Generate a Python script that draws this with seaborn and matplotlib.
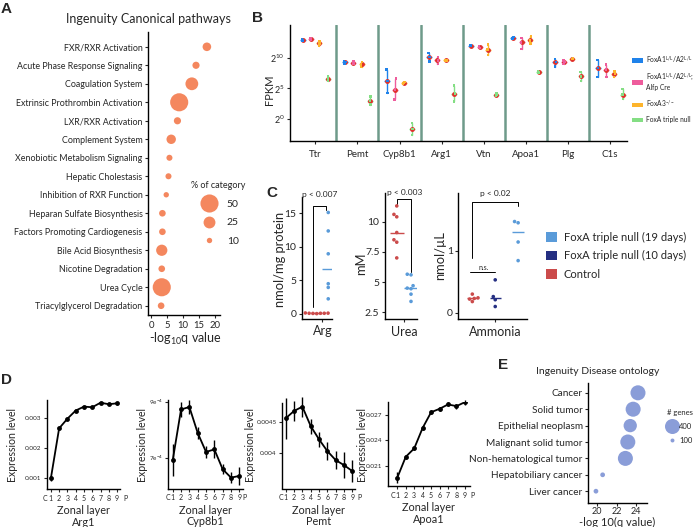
import numpy as np
import pandas as pd
import seaborn as sns
import matplotlib.pyplot as plt
from matplotlib.lines import Line2D
from matplotlib.patches import Patch

# ---------------- data ----------------
# A: Ingenuity canonical pathways
pathways = ["FXR/RXR Activation", "Acute Phase Response Signaling", "Coagulation System",
            "Extrinsic Prothrombin Activation", "LXR/RXR Activation", "Complement System",
            "Xenobiotic Metabolism Signaling", "Hepatic Cholestasis", "Inhibition of RXR Function",
            "Heparan Sulfate Biosynthesis", "Factors Promoting Cardiogenesis", "Bile Acid Biosynthesis",
            "Nicotine Degradation", "Urea Cycle", "Triacylglycerol Degradation"]
pathway_q = [17.4, 14.0, 12.7, 8.75, 8.2, 6.25, 5.7, 5.4, 4.7, 3.5, 3.5, 3.3, 3.3, 3.3, 3.1]
pathway_pct = [16, 13, 28, 50, 13, 18, 11, 11, 10, 12, 12, 23, 12, 56, 12]
pct_legend = [50, 25, 10]

# B: FPKM (log2) per gene, mean and range for each genotype
genes = ["Ttr", "Pemt", "Cyp8b1", "Arg1", "Vtn", "Apoa1", "Plg", "C1s"]
genotypes = ["FoxA1$^{L/L}$/A2$^{L/L}$", "FoxA1$^{L/L}$/A2$^{L/L}$;\nAlfp Cre",
             "FoxA3$^{-/-}$", "FoxA triple null"]
ctrl_mean = [12.9, 9.3, 6.2, 10.15, 12.0, 13.3, 9.3, 8.35]
ctrl_lo = [12.8, 9.1, 4.3, 9.45, 11.95, 13.2, 8.6, 6.9]
ctrl_hi = [13.0, 9.5, 8.1, 10.8, 12.05, 13.45, 9.85, 9.7]
cre_mean = [13.1, 9.2, 4.8, 9.6, 11.8, 12.55, 9.3, 8.1]
cre_lo = [12.95, 9.0, 3.2, 9.0, 11.65, 11.5, 9.0, 6.9]
cre_hi = [13.25, 9.4, 6.6, 10.15, 11.95, 13.3, 9.55, 8.9]
a3_mean = [12.4, 9.0, 5.9, 9.6, 11.35, 12.9, 9.85, 7.4]
a3_lo = [12.0, 8.6, 5.7, 9.5, 10.5, 12.35, 9.8, 6.9]
a3_hi = [12.8, 9.3, 6.1, 9.7, 12.2, 13.55, 9.9, 7.8]
tko_mean = [6.55, 3.0, -1.6, 4.15, 4.0, 7.65, 7.0, 4.0]
tko_lo = [6.2, 2.35, -2.6, 2.9, 3.8, 7.5, 6.2, 3.3]
tko_hi = [7.0, 3.7, -0.65, 5.45, 4.2, 7.85, 7.7, 4.9]

# C: metabolites
c_groups = ["FoxA triple null (19 days)", "FoxA triple null (10 days)", "Control"]
arg_control = [0.1, 0.12, 0.08, 0.1, 0.15, 0.05, 0.1]
arg_tko19 = [15.1, 12.35, 8.95, 4.5, 3.95, 2.25]
urea_control = [11.3, 10.6, 10.4, 9.1, 8.5, 8.3, 7.0]
urea_tko19 = [5.65, 5.6, 4.7, 4.5, 4.45, 4.0, 3.4]
ammonia_control = [0.30, 0.24, 0.23, 0.22, 0.18]
ammonia_tko10 = [0.53, 0.26, 0.21, 0.10]
ammonia_tko19 = [1.47, 1.45, 1.14, 0.84]

# D: zonation profiles
zonal_layers = [1, 2, 3, 4, 5, 6, 7, 8, 9]
arg1_expr = [0.00100, 0.00266, 0.00298, 0.00325, 0.00338, 0.00336, 0.00351, 0.00346, 0.00349]
arg1_err = [0.00008, 0.00004, 0.00003, 0.00003, 0.00003, 0.00003, 0.00003, 0.00003, 0.00004]
cyp8b1_expr = [6.90e-4, 8.72e-4, 8.81e-4, 7.88e-4, 7.20e-4, 7.29e-4, 6.58e-4, 6.28e-4, 6.34e-4]
cyp8b1_err = [5.7e-5, 2.7e-5, 2.4e-5, 2.0e-5, 2.0e-5, 3.2e-5, 1.8e-5, 2.0e-5, 3.2e-5]
pemt_expr = [0.004565, 0.004683, 0.004752, 0.004440, 0.004226, 0.004037, 0.003892, 0.003811, 0.003715]
pemt_err = [3.3e-4, 1.6e-4, 1.6e-4, 1.2e-4, 1.2e-4, 1.5e-4, 1.4e-4, 2.1e-4, 1.8e-4]
apoa1_expr = [0.01962, 0.02206, 0.02304, 0.02544, 0.02727, 0.02767, 0.02818, 0.02798, 0.02845]
apoa1_err = [6.3e-4, 2.4e-4, 2.4e-4, 2.4e-4, 2.4e-4, 2.4e-4, 2.4e-4, 3e-4, 3e-4]

# E: Ingenuity disease ontology
diseases = ["Cancer", "Solid tumor", "Epithelial neoplasm", "Malignant solid tumor",
            "Non-hematological tumor", "Hepatobiliary cancer", "Liver cancer"]
disease_q = [24.2, 23.7, 23.4, 23.15, 22.9, 20.55, 19.86]
disease_genes = [650, 560, 330, 505, 400, 110, 110]
genes_legend = [400, 100]

# ---------------- style ----------------
sns.set_theme(style="ticks")
plt.rcParams["font.family"] = ["Lato", "DejaVu Sans"]
plt.rcParams.update({
    "axes.linewidth": 1.0, "axes.edgecolor": "black",
    "xtick.major.size": 2.5, "ytick.major.size": 2.5,
    "xtick.major.width": 0.8, "ytick.major.width": 0.8,
    "xtick.major.pad": 1.5, "ytick.major.pad": 1.5,
    "mathtext.fontset": "custom", "mathtext.rm": "Lato", "mathtext.default": "regular",
})
salmon = "#F4875E"
periwinkle = "#8A9DD8"
b_palette = ["#1F82EA", "#EE5C9C", "#FDB42C", "#84DE84"]
c_palette = {"FoxA triple null (19 days)": "#5A9BD9", "FoxA triple null (10 days)": "#252F82",
             "Control": "#CB4B4B"}

W, H = 697, 527
fig = plt.figure(figsize=(W / 100, H / 100), dpi=100)


def px_axes(left, top, right, bottom):  # axes from a pixel box, origin top-left
    return fig.add_axes([left / W, 1 - bottom / H, (right - left) / W, (bottom - top) / H])


def fig_text(x, y, s, **kw):
    return fig.text(x / W, 1 - y / H, s, **kw)


def panel_label(x, y, s):
    fig_text(x, y, s, fontsize=11, fontweight="bold", family="Liberation Sans", ha="left", va="top")


# ---------------- A ----------------
ax = px_axes(148, 32, 220, 315)
dfa = pd.DataFrame({"pathway": pathways, "q": pathway_q, "pct": pathway_pct})
sns.scatterplot(data=dfa, x="q", y="pathway", size="pct", sizes=(15, 170), size_norm=(10, 50),
                color=salmon, linewidth=0, legend=False, ax=ax)
ax.set_xlim(-1, 21.5)
ax.set_ylim(14.5, -0.8)
ax.set_xticks([0, 5, 10, 15, 20])
ax.tick_params(axis="y", labelsize=6.4)
ax.tick_params(axis="x", labelsize=6.8)
ax.set_xlabel("")
ax.set_ylabel("")
sns.despine(ax=ax)
fig_text(148, 19, "Ingenuity Canonical pathways", fontsize=9, ha="center", va="center")
fig_text(185, 339, "-log$_{10}$q value", fontsize=9, ha="center", va="center")
a_handles = [Line2D([], [], marker="o", linestyle="none", color=salmon, markeredgewidth=0,
                    markersize=np.sqrt(15 + (p - 10) / 40 * 155)) for p in pct_legend]
fig.legend(a_handles, [str(p) for p in pct_legend], title="% of category", loc="upper left",
           bbox_to_anchor=(191 / W, 1 - 181 / H), frameon=False, fontsize=7.5, title_fontsize=6.5,
           handlelength=2.2, handletextpad=0.6, labelspacing=0.9, borderpad=0, borderaxespad=0)
panel_label(1, 2, "A")

# ---------------- B ----------------
ax = px_axes(290, 25, 627, 141)
rows = []
for name, mean, lo, hi in zip(genotypes, [ctrl_mean, cre_mean, a3_mean, tko_mean],
                              [ctrl_lo, cre_lo, a3_lo, tko_lo], [ctrl_hi, cre_hi, a3_hi, tko_hi]):
    for g, m, l, h in zip(genes, mean, lo, hi):
        for v in (l, m, h):
            rows.append({"gene": g, "group": name, "log2fpkm": v})
dfb = pd.DataFrame(rows)
for i in range(len(genes) - 1):
    ax.axvline(i + 0.5, color="#6E9B8A", lw=1.8, zorder=0)
np.random.seed(1)
sns.stripplot(data=dfb, x="gene", y="log2fpkm", hue="group", order=genes, hue_order=genotypes,
              palette=b_palette, dodge=True, jitter=0.07, size=1.8, marker="s", linewidth=0,
              legend=False, ax=ax)
sns.pointplot(data=dfb, x="gene", y="log2fpkm", hue="group", order=genes, hue_order=genotypes,
              palette=b_palette, dodge=0.6, estimator="median", errorbar=lambda v: (v.min(), v.max()),
              linestyle="none", markers="_", markersize=5, markeredgewidth=1.0,
              err_kws={"linewidth": 1.0}, legend=False, ax=ax)
sns.pointplot(data=dfb, x="gene", y="log2fpkm", hue="group", order=genes, hue_order=genotypes,
              palette=["#E0302A"] * 4, dodge=0.6, estimator="median", errorbar=None,
              linestyle="none", markers="o", markersize=1.5, legend=False, ax=ax)
ax.set_xlim(-0.6, 7.4)
ax.set_ylim(-3.6, 15.4)
ax.set_yticks([0, 5, 10])
ax.set_yticklabels(["$2^{0}$", "$2^{5}$", "$2^{10}$"])
ax.tick_params(axis="y", labelsize=6.5)
ax.tick_params(axis="x", labelsize=7, pad=4)
ax.set_xlabel("")
ax.set_ylabel("")
sns.despine(ax=ax)
fig_text(270, 90, "FPKM", fontsize=8, rotation=90, ha="center", va="center")
b_handles = [Patch(facecolor=c, edgecolor="none") for c in b_palette]
fig.legend(b_handles, genotypes, loc="upper left", bbox_to_anchor=(632 / W, 1 - 54 / H),
           frameon=False, fontsize=4.8, handlelength=1.6, handleheight=0.7, handletextpad=0.5,
           labelspacing=1.05, borderpad=0, borderaxespad=0)
panel_label(252, 11, "B")

# ---------------- C ----------------
dfc = pd.concat([
    pd.DataFrame({"assay": "Arg", "group": "Control", "value": arg_control}),
    pd.DataFrame({"assay": "Arg", "group": c_groups[0], "value": arg_tko19}),
    pd.DataFrame({"assay": "Urea", "group": "Control", "value": urea_control}),
    pd.DataFrame({"assay": "Urea", "group": c_groups[0], "value": urea_tko19}),
    pd.DataFrame({"assay": "Ammonia", "group": "Control", "value": ammonia_control}),
    pd.DataFrame({"assay": "Ammonia", "group": c_groups[1], "value": ammonia_tko10}),
    pd.DataFrame({"assay": "Ammonia", "group": c_groups[0], "value": ammonia_tko19}),
], ignore_index=True)

c_layout = [
    ("Arg", (301.7, 197, 331.7, 319), (-0.72, 0.32), (-0.75, 17.4), [0, 5, 10, 15], ["0", "5", "10", "15"], 0.0),
    ("Urea", (385, 193, 416.7, 319.3), (-0.53, 0.36), (1.92, 12.37), [2.5, 5, 7.5, 10], ["2.5", "5", "7.5", "10"], 0.0),
    ("Ammonia", (458.3, 193, 527, 319.3), (-0.43, 0.37), (-0.106, 1.93), [0, 1], ["0", "1"], 0.5),
]
c_axes = {}
for assay, box, xlim, ylim, yt, ytl, gap in c_layout:
    ax = px_axes(*box)
    sub = dfc[dfc.assay == assay]
    order = [g for g in ["Control", c_groups[1], c_groups[0]] if g in set(sub.group)]
    sns.swarmplot(data=sub, x="assay", y="value", hue="group", hue_order=order, palette=c_palette,
                  dodge=True, size=2.6, legend=False, ax=ax)
    sns.boxplot(data=sub, x="assay", y="value", hue="group", hue_order=order, palette=c_palette,
                dodge=True, fill=False, gap=gap, whis=0, showfliers=False,
                boxprops={"visible": False}, whiskerprops={"visible": False},
                capprops={"visible": False}, medianprops={"linewidth": 1.0}, legend=False, ax=ax)
    ax.set_xlim(*xlim)
    ax.set_ylim(*ylim)
    ax.set_yticks(yt)
    ax.set_yticklabels(ytl)
    ax.tick_params(axis="y", labelsize=7.5)
    ax.tick_params(axis="x", labelsize=9, pad=2)
    ax.set_xlabel("")
    ax.set_ylabel("")
    sns.despine(ax=ax)
    c_axes[assay] = ax

kw = dict(color="black", lw=0.7, clip_on=False)
ax = c_axes["Arg"]
ax.plot([-0.32, -0.32, 0.12, 0.12], [1.1, 16.1, 16.1, 15.4], **kw)
ax.text(-0.09, 17.2, "p < 0.007", fontsize=6, ha="center", va="bottom")
ax = c_axes["Urea"]
ax.plot([-0.2, -0.2, 0.2, 0.2], [11.45, 11.88, 11.88, 5.8], **kw)
ax.text(0.03, 12.15, "p < 0.003", fontsize=6, ha="center", va="bottom")
ax = c_axes["Ammonia"]
ax.plot([-0.267, -0.267, 0.267, 0.267], [0.88, 1.79, 1.79, 1.72], **kw)
ax.text(0, 1.86, "p < 0.02", fontsize=6, ha="center", va="bottom")
ax.plot([-0.29, 0.0], [0.65, 0.65], **kw)
ax.text(-0.14, 0.67, "n.s.", fontsize=5, ha="center", va="bottom")

fig_text(279.5, 259, "nmol/mg protein", fontsize=9.3, rotation=90, ha="center", va="center")
fig_text(361, 264, "mM", fontsize=9.3, rotation=90, ha="center", va="center")
fig_text(440.5, 256, "nmol/µL", fontsize=9.3, rotation=90, ha="center", va="center")
c_handles = [Patch(facecolor=c_palette[g], edgecolor="none") for g in c_groups]
fig.legend(c_handles, c_groups, loc="upper left", bbox_to_anchor=(546 / W, 1 - 232 / H),
           frameon=False, fontsize=8, handlelength=1.0, handleheight=1.0, handletextpad=0.6,
           labelspacing=0.65, borderpad=0, borderaxespad=0)
panel_label(266, 186, "C")

# ---------------- D ----------------
d_layout = [
    ("Arg1", arg1_expr, arg1_err, (46.7, 400, 120, 489), (0.5, 9.35), (0.00065, 0.0036),
     [0.001, 0.002, 0.003], ["0.001", "0.002", "0.003"], 13, 0.32, 10.0),
    ("Cyp8b1", cyp8b1_expr, cyp8b1_err, (168.3, 400, 243, 488.5), (0.47, 9.44), (5.89e-4, 9.06e-4),
     [7e-4, 9e-4], ["7e$^{-4}$", "9e$^{-4}$"], 143, 0.38, 9.6),
    ("Pemt", pemt_expr, pemt_err, (282.3, 402.7, 355, 488.5), (0.59, 9.32), (0.003435, 0.004816),
     [0.004, 0.0045], ["0.004", "0.0045"], 251, 0.42, 9.88),
    ("Apoa1", apoa1_expr, apoa1_err, (388, 401.7, 470, 486), (-0.1, 9.6), (0.01865, 0.0285),
     [0.021, 0.024, 0.027], ["0.021", "0.024", "0.027"], 363, 0.45, 9.95),
]
for gene, expr, err, box, xlim, ylim, yt, ytl, ylab_x, c_x, p_x in d_layout:
    ax = px_axes(*box)
    dfd = pd.DataFrame({"layer": zonal_layers, "expr": expr, "err": err})
    sns.lineplot(data=dfd, x="layer", y="expr", color="black", marker="o", markersize=3.5,
                 markeredgewidth=0, linewidth=1.3, ax=ax)
    ax.errorbar(dfd["layer"], dfd["expr"], yerr=dfd["err"], fmt="none", ecolor="black",
                elinewidth=1.0, capsize=0, clip_on=False)
    ax.set_xlim(*xlim)
    ax.set_ylim(*ylim)
    ax.set_xticks(zonal_layers)
    ax.set_xticklabels([str(z) for z in zonal_layers])
    ax.set_yticks(yt)
    ax.set_yticklabels(ytl)
    ax.tick_params(labelsize=5)
    ax.tick_params(axis="y", labelsize=4.6)
    for s, xx in (("C", c_x), ("P", p_x)):
        ax.annotate(s, xy=(xx, 0), xycoords=("data", "axes fraction"), xytext=(0, -4),
                    textcoords="offset points", ha="center", va="top", fontsize=5, annotation_clip=False)
    ax.set_xlabel("Zonal layer\n" + gene, fontsize=7.8, linespacing=1.1, labelpad=2.5)
    ax.set_ylabel("")
    sns.despine(ax=ax)
    fig_text(ylab_x, 445, "Expression level", fontsize=7.6, rotation=90, ha="center", va="center")
panel_label(1, 373, "D")

# ---------------- E ----------------
ax = px_axes(588.3, 383.3, 646.7, 503)
dfe = pd.DataFrame({"disease": diseases, "q": disease_q, "genes": disease_genes})
sns.scatterplot(data=dfe, x="q", y="disease", size="genes", sizes=(8, 117), size_norm=(100, 400),
                color=periwinkle, linewidth=0, legend=False, ax=ax)
ax.set_xlim(19.07, 25.1)
ax.set_ylim(6.72, -0.58)
ax.set_xticks([20, 22, 24])
ax.tick_params(axis="y", labelsize=7.2)
ax.tick_params(axis="x", labelsize=6.5, length=2, pad=1)
ax.set_xlabel("")
ax.set_ylabel("")
sns.despine(ax=ax)
fig_text(598, 372, "Ingenuity Disease ontology", fontsize=7.5, ha="center", va="center")
fig_text(617, 522.5, "-log 10(q value)", fontsize=8, ha="center", va="center")
e_handles = [Line2D([], [], marker="o", linestyle="none", color=periwinkle, markeredgewidth=0,
                    markersize=np.sqrt(8 + (n - 100) / 300 * 109)) for n in genes_legend]
fig.legend(e_handles, [str(n) for n in genes_legend], title="# genes", loc="upper left",
           bbox_to_anchor=(667 / W, 1 - 409 / H), frameon=False, fontsize=5.5, title_fontsize=5.5,
           handlelength=1.2, handletextpad=0.4, labelspacing=0.9, borderpad=0, borderaxespad=0)
panel_label(498, 358, "E")

fig.savefig("out.png", dpi=100)
